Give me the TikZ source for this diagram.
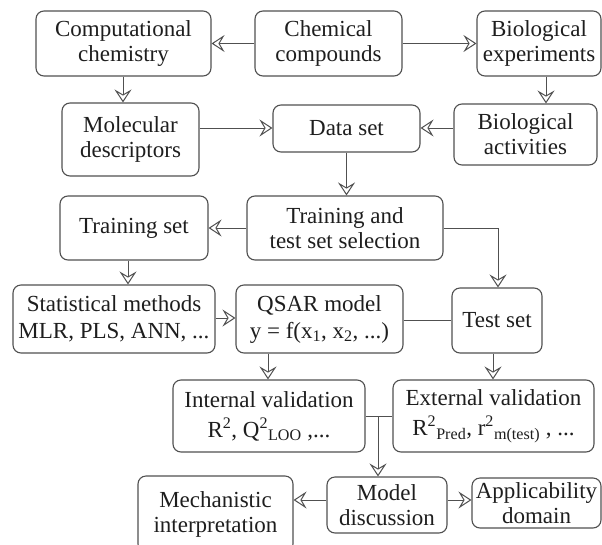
\documentclass[tikz,border=0pt]{standalone}
\usepackage{fontspec}
\setmainfont{Liberation Serif}
\usetikzlibrary{arrows.meta}
\definecolor{linec}{HTML}{505050}
\definecolor{textc}{HTML}{1E1E1E}
\begin{document}
\begin{tikzpicture}[x=1pt,y=-1pt,
  box/.style={draw=linec, line width=1.1pt, rounded corners=8pt, inner sep=0pt,
    align=center, text=textc, font=\fontsize{23}{25}\selectfont},
  arr/.style={draw=linec, line width=1pt, -{Stealth[open,length=13pt,width=17pt,inset=5pt]}},
  ln/.style={draw=linec, line width=1pt}]
\useasboundingbox (0,0) rectangle (602,544);
\clip (0,0) rectangle (602,544);
\node[box, minimum width=175pt, minimum height=65pt] (cc) at (123.5,43.5) {Computational\\chemistry};
\node[box, minimum width=147pt, minimum height=65pt] (chem) at (328.5,43.5) {Chemical\\compounds};
\node[box, minimum width=124pt, minimum height=65pt] (bioexp) at (539,43.5) {Biological\\experiments};
\node[box, minimum width=137pt, minimum height=73pt] (md) at (130.5,139.5) {Molecular\\descriptors};
\node[box, minimum width=147pt, minimum height=47pt] (ds) at (346.5,128.5) {Data set};
\node[box, minimum width=143pt, minimum height=61pt] (ba) at (525.5,134.5) {Biological\\activities};
\node[box, minimum width=148pt, minimum height=64pt] (ts) at (134,228) {Training set};
\node[box, minimum width=196pt, minimum height=64pt] (tt) at (345,228) {Training and\\test set selection};
\node[box, minimum width=202pt, minimum height=68pt] (sm) at (114,319) {Statistical methods\\[2pt]MLR, PLS, ANN, ...};
\node[box, minimum width=167pt, minimum height=68pt] (qsar) at (319.5,319) {QSAR model\\[2pt]y = f(x\textsubscript{1}, x\textsubscript{2}, ...)};
\node[box, minimum width=90pt, minimum height=65pt] (test) at (497,320.5) {Test set};
\node[box, minimum width=192pt, minimum height=72pt] (iv) at (269,416) {Internal validation\\[5pt]R\textsuperscript{2}, Q\textsuperscript{2}\textsubscript{LOO} ,...};
\node[box, minimum width=201pt, minimum height=72pt] (ev) at (493.5,416) {External validation\\[5pt]R\textsuperscript{2}\textsubscript{Pred}, r\textsuperscript{2}\textsubscript{m(test)} , ...};
\node[box, minimum width=155pt, minimum height=76pt] (mi) at (215.5,514) {Mechanistic\\interpretation};
\node[box, minimum width=120pt, minimum height=56pt] (mdisc) at (387,505) {Model\\discussion};
\node[box, minimum width=129pt, minimum height=50pt] (ad) at (536.5,503) {Applicability\\domain};
\coordinate (jn) at (378,416);
\coordinate (tcorner) at (498,228);
% connectors
\draw[arr] (chem.west) -- (cc.east);
\draw[arr] (chem.east) -- (bioexp.west);
\draw[arr] (cc.south -| 123,0) -- (md.north -| 123,0);
\draw[arr] (bioexp.south -| 546,0) -- (ba.north -| 546,0);
\draw[arr] (md.east |- 0,128) -- (ds.west |- 0,128);
\draw[arr] (ba.west |- 0,128) -- (ds.east |- 0,128);
\draw[arr] (ds.south) -- (tt.north -| ds.south);
\draw[arr] (tt.west) -- (ts.east);
\draw[arr] (tt.east) -- (tcorner) -- (test.north -| tcorner);
\draw[arr] (ts.south -| 128,0) -- (sm.north -| 128,0);
\draw[arr] (sm.east |- 0,318) -- (qsar.west |- 0,318);
\draw[ln] (qsar.east |- 0,320) -- (test.west |- 0,320);
\draw[arr] (qsar.south -| 268,0) -- (iv.north -| 268,0);
\draw[arr] (test.south -| 493,0) -- (ev.north -| 493,0);
\draw[ln] (iv.east) -- (ev.west);
\draw[arr] (jn) -- (mdisc.north -| jn);
\draw[arr] (mdisc.west |- 0,500) -- (mi.east |- 0,500);
\draw[arr] (mdisc.east |- 0,500) -- (ad.west |- 0,500);
\end{tikzpicture}
\end{document}
